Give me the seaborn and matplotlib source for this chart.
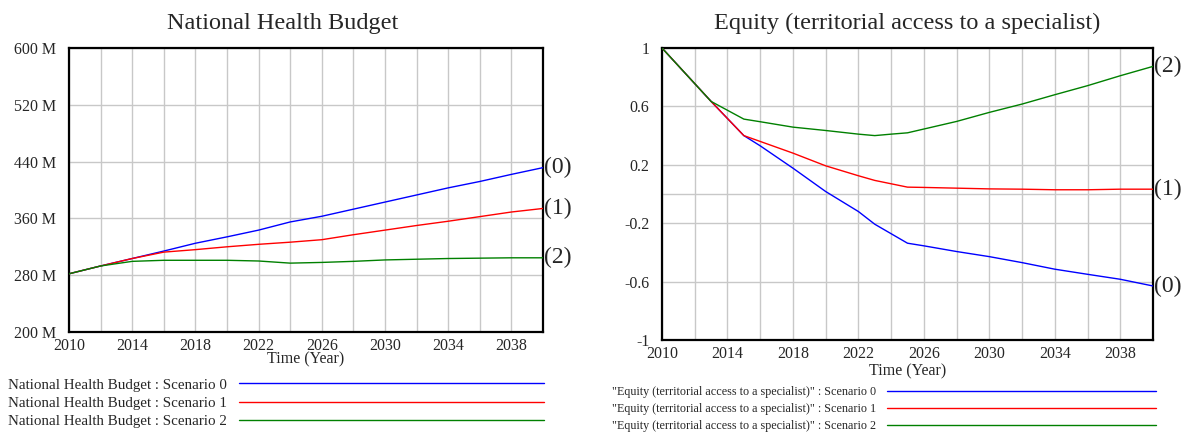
import numpy as np
import pandas as pd
import matplotlib
matplotlib.use("Agg")
import matplotlib.pyplot as plt
import seaborn as sns

# values
budget_years = [2010, 2012, 2014, 2016, 2018, 2020, 2022, 2024, 2026, 2028, 2030, 2032, 2034, 2036, 2038, 2040]
budget_s0 = [282, 293, 303.5, 314, 325, 334, 343.5, 355, 363, 373, 383, 393, 403, 412, 422, 431.5]
budget_s1 = [282, 293, 303.5, 312.5, 316, 320, 323.5, 326.5, 330, 337, 343.5, 350, 356, 362.5, 369, 374]
budget_s2 = [282, 293, 299.5, 301, 301, 301, 300, 297, 298, 299.5, 301.5, 302.5, 303.5, 304, 304.5, 304.5]

equity_years = [2010, 2013, 2015, 2016, 2018, 2020, 2022, 2023, 2024, 2025, 2026, 2028, 2030, 2032, 2034, 2036, 2038, 2040]
equity_s0 = [1.0, 0.634, 0.40, 0.33, 0.177, 0.017, -0.12, -0.207, -0.272, -0.337, -0.355, -0.394, -0.429, -0.47, -0.515, -0.55, -0.584, -0.63]
equity_s1 = [1.0, 0.634, 0.40, 0.36, 0.28, 0.193, 0.125, 0.093, 0.07, 0.047, 0.045, 0.04, 0.035, 0.033, 0.029, 0.029, 0.033, 0.033]
equity_s2 = [1.0, 0.634, 0.513, 0.495, 0.458, 0.435, 0.41, 0.40, 0.41, 0.419, 0.445, 0.497, 0.559, 0.616, 0.68, 0.742, 0.81, 0.874]

scenarios = ["Scenario 0", "Scenario 1", "Scenario 2"]
end_tags = ["(0)", "(1)", "(2)"]
colors = ["#0000ff", "#ff0000", "#008000"]

budget_yticks = [200, 280, 360, 440, 520, 600]
budget_ylabels = ["200 M", "280 M", "360 M", "440 M", "520 M", "600 M"]
equity_yticks = [-1, -0.6, -0.2, 0.2, 0.6, 1]
equity_ylabels = ["-1", "-0.6", "-0.2", "0.2", "0.6", "1"]
xticks = list(range(2010, 2041, 2))
xlabels = [str(y) if (y - 2010) % 4 == 0 and y < 2040 else "" for y in xticks]


def to_long(years, series):
    rows = []
    for name, vals in zip(scenarios, series):
        for y, v in zip(years, vals):
            rows.append({"Year": y, "Value": v, "Scenario": name})
    return pd.DataFrame(rows)


budget_df = to_long(budget_years, [budget_s0, budget_s1, budget_s2])
equity_df = to_long(equity_years, [equity_s0, equity_s1, equity_s2])

sns.set_style("white")
plt.rcParams["font.family"] = ["Liberation Serif", "DejaVu Serif"]

fig = plt.figure(figsize=(11.92, 4.32), dpi=100)
ax1 = fig.add_axes([69 / 1192, 1 - 332 / 432, 474 / 1192, 284 / 432])
ax2 = fig.add_axes([662 / 1192, 1 - 340 / 432, 491 / 1192, 292 / 432])

grid_c = "#c8c8c8"


def style_axis(ax, df, yticks, ylabels, ylim, title, title_x, label_pad):
    sns.lineplot(data=df, x="Year", y="Value", hue="Scenario", palette=colors,
                 linewidth=1.0, legend=False, ax=ax, zorder=3)
    ax.set_xlim(2010, 2040)
    ax.set_ylim(*ylim)
    ax.set_xticks(xticks)
    ax.set_xticklabels(xlabels, fontsize=11.5)
    ax.set_yticks(yticks)
    ax.set_yticklabels(ylabels, fontsize=11.5)
    ax.tick_params(axis="both", length=0)
    ax.tick_params(axis="y", pad=9)
    ax.tick_params(axis="x", pad=4)
    ax.grid(True, color=grid_c, linewidth=1.0)
    for s in ax.spines.values():
        s.set_color("black")
        s.set_linewidth(1.6)
    ax.set_xlabel("Time (Year)", fontsize=11.5, labelpad=label_pad)
    ax.set_ylabel("")
    ax.set_title(title, fontsize=17.5, x=title_x, pad=14)


style_axis(ax1, budget_df, budget_yticks, budget_ylabels, (200, 600),
           "National Health Budget", (283 - 69) / 474, -1.5)
style_axis(ax2, equity_df, equity_yticks, equity_ylabels, (-1, 1),
           "Equity (territorial access to a specialist)", 0.5, 1.5)
ax2.axhline(0, color=grid_c, linewidth=1.0, zorder=1)

# end-of-line scenario tags
for ax, years, series in [(ax1, budget_years, [budget_s0, budget_s1, budget_s2]),
                          (ax2, equity_years, [equity_s0, equity_s1, equity_s2])]:
    for tag, vals in zip(end_tags, series):
        ax.annotate(tag, xy=(years[-1], vals[-1]), xytext=(1, 0), textcoords="offset points",
                    ha="left", va="center", fontsize=17, annotation_clip=False)

# legends below each chart
lines1 = ax1.get_lines()[:3]
fig.legend(lines1, ["National Health Budget : " + s for s in scenarios],
           loc="upper left", bbox_to_anchor=(8 / 1192, 1 - 378 / 432),
           markerfirst=False, frameon=False, fontsize=10.8, handlelength=20.3,
           handletextpad=0.8, labelspacing=0.32, borderpad=0, borderaxespad=0)

lines2 = ax2.get_lines()[:3]
fig.legend(lines2, ['"Equity (territorial access to a specialist)" : ' + s for s in scenarios],
           loc="upper left", bbox_to_anchor=(612 / 1192, 1 - 386 / 432),
           markerfirst=False, frameon=False, fontsize=8.7, handlelength=22.3,
           handletextpad=0.9, labelspacing=0.42, borderpad=0, borderaxespad=0)

fig.savefig("out.png", dpi=100)
